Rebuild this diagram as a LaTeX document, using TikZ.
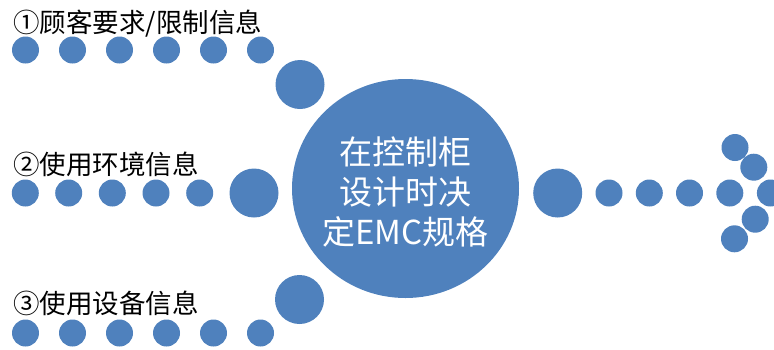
\documentclass[tikz,border=0pt]{standalone}
\usepackage{fontspec}
\newfontfamily\cjk{Noto Sans CJK SC}
\usetikzlibrary{shapes.geometric}
\definecolor{dotblue}{HTML}{4F81BD}
\begin{document}
\begin{tikzpicture}[x=1pt,y=-1pt,
  dot/.style={circle,fill=dotblue,draw=none,inner sep=0pt,minimum size=27pt},
  bigdot/.style={circle,fill=dotblue,draw=none,inner sep=0pt,minimum size=49pt},
  hub/.style={ellipse,fill=dotblue,draw=none,inner sep=0pt,minimum width=227pt,minimum height=219pt},
  lbl/.style={anchor=base west,inner sep=0pt,font=\cjk\fontsize{26.5}{30}\selectfont,text=black},
  hubtext/.style={align=center,inner sep=0pt,text=white,font=\cjk\fontsize{33}{40}\selectfont}]
\useasboundingbox (0,0) rectangle (774,349);
% central circle
\node[hub] (hub) at (405.5,188.5) {};
\node[hubtext] (hubtxt) at (405.5,192) {在控制柜\\设计时决\\定EMC规格};
% top row
\node[lbl] (l1) at (13,32.5) {①顾客要求/限制信息};
\foreach \x [count=\i] in {25.5,72.5,119.5,166.5,213.5,260.5}
  \node[dot] (t\i) at (\x,50) {};
\node[bigdot] (tb) at (300,84.5) {};
% middle row
\node[lbl] (l2) at (13,174.5) {②使用环境信息};
\foreach \x [count=\i] in {25.3,68.7,112.3,156,199.7}
  \node[dot] (m\i) at (\x,193) {};
\node[bigdot] (mb) at (254,193) {};
% bottom row
\node[lbl] (l3) at (13,313.5) {③使用设备信息};
\foreach \x [count=\i] in {25.5,72.5,119.5,166.5,213.5,260.5}
  \node[dot] (b\i) at (\x,333) {};
\node[bigdot] (bb) at (299.5,299.5) {};
% right arrow
\node[bigdot] (rb) at (557.7,193) {};
\foreach \x [count=\i] in {609,649.3,689.5,729.8,770.4}
  \node[dot] (r\i) at (\x,193) {};
\node[dot] (h1) at (735,147.5) {};
\node[dot] (h2) at (753.8,167.2) {};
\node[dot] (h3) at (755.2,219.2) {};
\node[dot] (h4) at (734.5,238.8) {};
\end{tikzpicture}
\end{document}
